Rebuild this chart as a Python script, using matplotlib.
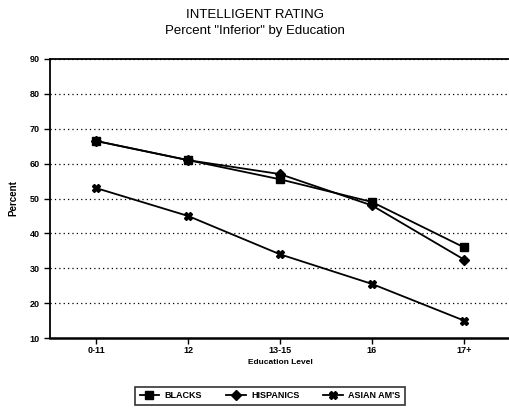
import matplotlib
matplotlib.use("Agg")
from matplotlib import pyplot as plt

levels = ["0-11", "12", "13-15", "16", "17+"]
blacks = [66.5, 61, 55.5, 49, 36]
hispanics = [66.5, 61, 57, 48, 32.5]
asian = [53, 45, 34, 25.5, 15]
yticks = [10, 20, 30, 40, 50, 60, 70, 80, 90]

plt.rcParams['font.family'] = ['Liberation Sans', 'DejaVu Sans']

fig = plt.figure(figsize=(5.1, 4.08), dpi=100)
ax = fig.add_axes([50 / 510, 70 / 408, 460 / 510, 279 / 408])

x = range(len(levels))
ax.plot(x, blacks, color='black', lw=1.3, marker='s', ms=6, label='BLACKS')
ax.plot(x, hispanics, color='black', lw=1.3, marker='D', ms=5, label='HISPANICS')
ax.plot(x, asian, color='black', lw=1.3, marker='X', ms=6, label="ASIAN AM'S")

ax.set_xlim(-0.5, 4.5)
ax.set_ylim(10, 90)
ax.set_yticks(yticks)
ax.set_xticks(list(x))
ax.set_xticklabels(levels)
ax.tick_params(labelsize=6.5, length=4, width=1, direction='out')
ax.tick_params(axis='x', pad=1.5)
for t in ax.get_yticklabels() + ax.get_xticklabels():
    t.set_fontweight('bold')
ax.yaxis.grid(True, linestyle=(0, (1, 2.5)), color='black', lw=0.9)

ax.spines['right'].set_visible(False)
ax.spines['left'].set_linewidth(1.3)
ax.spines['bottom'].set_linewidth(1.8)
ax.spines['top'].set_linewidth(1.3)

ax.set_xlabel('Education Level', fontsize=6, fontweight='bold', labelpad=3)
ax.set_ylabel('Percent', fontsize=7, fontweight='bold', labelpad=8)

fig.text(0.5, 1 - 15 / 408, 'INTELLIGENT RATING', ha='center', va='center', fontsize=9.5)
fig.text(0.5, 1 - 31 / 408, 'Percent "Inferior" by Education', ha='center', va='center', fontsize=9.5)

leg = fig.legend(loc='center', bbox_to_anchor=(270 / 510, 1 - 396 / 408), ncol=3,
                 fontsize=6.5, frameon=True, fancybox=False, edgecolor='black',
                 handlelength=2.2, handletextpad=0.6, columnspacing=2.6, borderpad=0.45)
leg.get_frame().set_linewidth(1.2)
for t in leg.get_texts():
    t.set_fontweight('bold')

fig.savefig('out.png', dpi=100)
